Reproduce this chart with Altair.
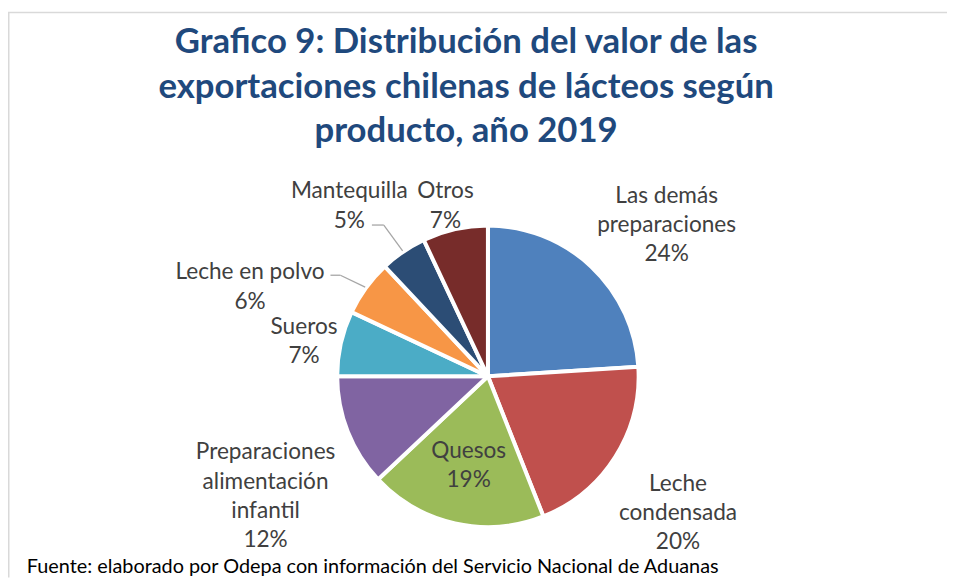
import altair as alt
import pandas as pd

# ---------------- data ----------------
CATEGORIES = [
    "Las demás preparaciones",
    "Leche condensada",
    "Quesos",
    "Preparaciones alimentación infantil",
    "Sueros",
    "Leche en polvo",
    "Mantequilla",
    "Otros",
]
LABEL_TEXT = [
    "Las demás\npreparaciones",
    "Leche\ncondensada",
    "Quesos",
    "Preparaciones\nalimentación\ninfantil",
    "Sueros",
    "Leche en polvo",
    "Mantequilla",
    "Otros",
]
SHARES = [24, 20, 19, 12, 7, 6, 5, 7]
COLORS = ["#4F81BD", "#C0504D", "#9BBB59", "#8064A2", "#4BACC6", "#F79646", "#2C4D75", "#772C2A"]
TITLE_LINES = [
    "Grafico 9: Distribución del valor de las",
    "exportaciones chilenas de lácteos según",
    "producto, año 2019",
]
SOURCE = "Fuente: elaborado por Odepa con información del Servicio Nacional de Aduanas"

# ---------------- layout / style ----------------
W, H = 947, 572
CX, CY = 484, 369          # pie centre inside the plot area
R = 152
LABEL_FONT = "Lato"
LABEL_SIZE = 22.8
LABEL_LH = 29.5
LABEL_COLOR = "#404040"

# per-label placement: (radius, dx, dy) for the centre of the label block
LABEL_PLACE = {
    "Las demás preparaciones": (237, 18, 19),
    "Leche condensada": (233, -5, 12),
    "Quesos": (89, 0, 2),
    "Preparaciones alimentación infantil": (253, 11, 27),
    "Sueros": (189, -1, 5),
    "Leche en polvo": (257, -32, 60),
    "Mantequilla": (222, -15, 11),
    "Otros": (178, -4, 1),
}
# leader lines: (start radius, elbow dx, elbow dy, horizontal length)
LEADERS = {
    "Mantequilla": (153, -19, -26, 12),
    "Leche en polvo": (153, -25, -12, 10),
}

df = pd.DataFrame({
    "idx": list(range(len(CATEGORIES))),
    "category": CATEGORIES,
    "label": LABEL_TEXT,
    "share": SHARES,
})

base = (
    alt.Chart(df)
    .transform_joinaggregate(total="sum(share)")
    .transform_window(cum="sum(share)", sort=[alt.SortField("idx")], frame=[None, 0])
    .transform_calculate(
        mid="2*PI*(datum.cum - datum.share/2)/datum.total",
        txt="datum.label + '\\n' + datum.share + '%'",
    )
)

pie = base.mark_arc(outerRadius=R, stroke="white", strokeWidth=4).encode(
    theta=alt.Theta("share:Q", stack=True),
    order=alt.Order("idx:Q"),
    color=alt.Color("category:N", scale=alt.Scale(domain=CATEGORIES, range=COLORS), legend=None),
    x=alt.value(CX),
    y=alt.value(CY),
)

layers = [pie]

for cat, lbl in zip(CATEGORIES, LABEL_TEXT):
    rad, dx, dy = LABEL_PLACE[cat]
    n_lines = lbl.count("\n") + 2
    lay = (
        base.transform_filter(alt.datum.category == cat)
        .transform_calculate(
            lx=f"{CX} + {rad}*sin(datum.mid)",
            ly=f"{CY} - {rad}*cos(datum.mid)",
        )
        .mark_text(
            font=LABEL_FONT, fontSize=LABEL_SIZE, color=LABEL_COLOR,
            align="center", baseline="middle", lineBreak="\n", lineHeight=LABEL_LH,
            dx=dx, dy=dy - (n_lines - 1) * LABEL_LH / 2 + 1,
        )
        .encode(
            x=alt.X("lx:Q", scale=None, axis=None),
            y=alt.Y("ly:Q", scale=None, axis=None),
            text="txt:N",
        )
    )
    layers.append(lay)

for cat, (r0, ex, ey, hl) in LEADERS.items():
    lb = base.transform_filter(alt.datum.category == cat).transform_calculate(
        x1=f"{CX} + {r0}*sin(datum.mid)",
        y1=f"{CY} - {r0}*cos(datum.mid)",
    ).transform_calculate(
        x2=f"datum.x1 + ({ex})",
        y2=f"datum.y1 + ({ey})",
    ).transform_calculate(
        x3=f"datum.x2 - {hl}",
    )
    diag = lb.mark_rule(color="#A6A6A6", strokeWidth=1.3).encode(
        x=alt.X("x1:Q", scale=None, axis=None),
        y=alt.Y("y1:Q", scale=None, axis=None),
        x2="x2:Q",
        y2="y2:Q",
    )
    hor = lb.mark_rule(color="#A6A6A6", strokeWidth=1.3).encode(
        x=alt.X("x2:Q", scale=None, axis=None),
        y=alt.Y("y2:Q", scale=None, axis=None),
        x2="x3:Q",
        y2="y2:Q",
    )
    layers += [diag, hor]

one = alt.Data(values=[{}])

title = alt.Chart(one).mark_text(
    text=TITLE_LINES, font="Lato", fontWeight="bold", fontSize=35, color="#1F497D",
    align="center", baseline="alphabetic", lineHeight=45,
).encode(x=alt.value(462), y=alt.value(43))

source = alt.Chart(one).mark_text(
    text=SOURCE, font="Lato", fontSize=20, color="#000000",
    align="left", baseline="alphabetic",
).encode(x=alt.value(19), y=alt.value(567))

frame_top = alt.Chart(one).mark_rule(color="#D9D9D9", strokeWidth=1.5).encode(
    x=alt.value(0), x2=alt.value(W), y=alt.value(2)
)
frame_left = alt.Chart(one).mark_rule(color="#D9D9D9", strokeWidth=1.5).encode(
    x=alt.value(0.75), y=alt.value(2), y2=alt.value(H)
)

layers += [title, source, frame_top, frame_left]

chart = (
    alt.layer(*layers)
    .properties(width=W, height=H, autosize=alt.AutoSizeParams(type="none"), padding=0)
    .configure_view(stroke=None)
)

chart.save("out.html", embed_options={"renderer": "svg", "actions": False})
